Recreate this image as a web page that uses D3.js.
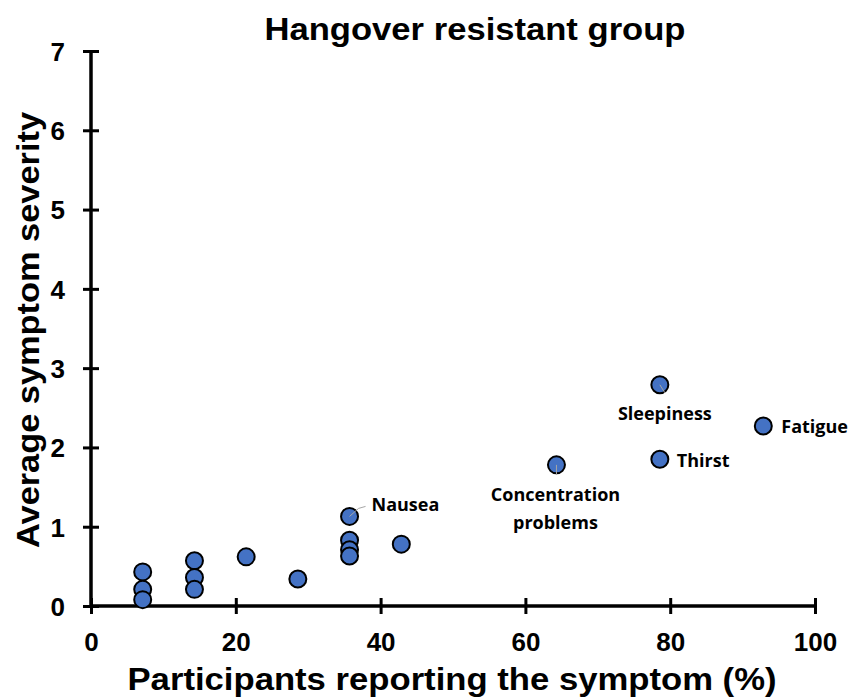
<!DOCTYPE html>
<html>
<head>
<meta charset="utf-8">
<script src="https://cdn.jsdelivr.net/npm/d3@7"></script>
<style>
  html, body { margin: 0; padding: 0; background: #fff; }
  svg { display: block; }
</style>
</head>
<body>
<svg id="chart" width="851" height="699"></svg>
<script>
// Share of participants reporting each symptom (%) and its mean severity
const pctReporting = [7.14, 7.14, 7.14, 14.29, 14.29, 14.29, 21.43, 28.57,
                      35.71, 35.71, 35.71, 35.71, 42.86, 64.29, 78.57, 78.57, 92.86];
const avgSeverity  = [0.43, 0.21, 0.08, 0.57, 0.36, 0.21, 0.62, 0.34,
                      1.13, 0.83, 0.71, 0.63, 0.78, 1.78, 2.79, 1.85, 2.27];
const symptomNames = ["", "", "", "", "", "", "", "",
                      "Nausea", "", "", "", "", "Concentration problems", "Sleepiness", "Thirst", "Fatigue"];

const xTicks = [0, 20, 40, 60, 80, 100];
const yTicks = [0, 1, 2, 3, 4, 5, 6, 7];

const chartTitle = "Hangover resistant group";
const xTitle = "Participants reporting the symptom (%)";
const yTitle = "Average symptom severity";

const svg = d3.select("#chart");
const x = d3.scaleLinear().domain([0, 100]).range([91, 815]);
const y = d3.scaleLinear().domain([0, 7]).range([606, 51]);

const boldFont = "'Liberation Sans', Arial, sans-serif";
const labelFont = "'Open Sans', 'Noto Sans', sans-serif";

// Axes with ticks crossing the line on both sides
const xAxis = svg.append("g")
  .attr("transform", `translate(0,${y(0)})`)
  .call(d3.axisBottom(x).tickValues(xTicks).tickSize(8).tickSizeOuter(0).tickFormat(d3.format("d")));
const yAxis = svg.append("g")
  .attr("transform", `translate(${x(0)},0)`)
  .call(d3.axisLeft(y).tickValues(yTicks).tickSize(8).tickSizeOuter(0).tickFormat(d3.format("d")));

[xAxis, yAxis].forEach(g => {
  g.attr("font-family", boldFont).attr("font-size", 26).attr("font-weight", "bold");
  g.select(".domain").attr("stroke", "#000").attr("stroke-width", 3.5);
  g.selectAll(".tick line").attr("stroke", "#000").attr("stroke-width", 3);
  g.selectAll(".tick text")
    .attr("fill", "#000")
    .style("font-family", boldFont)
    .style("font-weight", "700")
    .style("font-size", "26px");
});
xAxis.selectAll(".tick line").attr("y1", -8).attr("y2", 8);
xAxis.selectAll(".tick text").attr("y", 45).attr("dy", 0);
yAxis.selectAll(".tick line").attr("x1", -8).attr("x2", 8);
yAxis.selectAll(".tick text").attr("x", -26).attr("dy", "0.36em");
xAxis.select(".domain").attr("d", `M${x(0) - 1},0H${x(100) + 1}`);
yAxis.select(".domain").attr("d", `M0,${y(0) + 1}V${y(7) - 1}`);

// Titles
svg.append("text")
  .attr("x", 475).attr("y", 40)
  .attr("text-anchor", "middle")
  .style("font-family", boldFont).style("font-weight", "bold").style("font-size", "32px")
  .attr("textLength", 421).attr("lengthAdjust", "spacingAndGlyphs")
  .text(chartTitle);

svg.append("text")
  .attr("x", 452).attr("y", 690)
  .attr("text-anchor", "middle")
  .style("font-family", boldFont).style("font-weight", "bold").style("font-size", "31px")
  .attr("textLength", 649).attr("lengthAdjust", "spacingAndGlyphs")
  .text(xTitle);

svg.append("text")
  .attr("transform", "translate(39,330) rotate(-90)")
  .attr("text-anchor", "middle")
  .style("font-family", boldFont).style("font-weight", "bold").style("font-size", "31px")
  .attr("textLength", 436).attr("lengthAdjust", "spacingAndGlyphs")
  .text(yTitle);

const pts = pctReporting.map((p, i) => ({ p, s: avgSeverity[i], name: symptomNames[i] }));

// Leader lines for the labels that sit away from their point
const leaders = {
  "Nausea": [[0, 0], [9, -8], [16, -10]],
  "Sleepiness": [[0, 0], [5, 8]],
  "Concentration problems": [[0, 0], [0, 10]]
};

// Points
svg.append("g").selectAll("circle")
  .data(pts)
  .join("circle")
  .attr("cx", d => x(d.p))
  .attr("cy", d => y(d.s))
  .attr("r", 8.5)
  .attr("fill", "#4472C4")
  .attr("stroke", "#000")
  .attr("stroke-width", 2);

// Leader lines drawn over the point fill
svg.append("g").selectAll("path")
  .data(pts.filter(d => leaders[d.name]))
  .join("path")
  .attr("fill", "none").attr("stroke", "#a6a6a6").attr("stroke-width", 1)
  .attr("d", d => d3.line()(leaders[d.name].map(([dx, dy]) => [x(d.p) + dx, y(d.s) + dy])));

// Data labels
const labelPos = {
  "Nausea": { dx: 22, dy: -5, anchor: "start" },
  "Sleepiness": { dx: 5, dy: 35, anchor: "middle" },
  "Thirst": { dx: 17, dy: 8, anchor: "start" },
  "Fatigue": { dx: 18, dy: 7, anchor: "start" },
  "Concentration problems": { dx: -1, dy: 36, anchor: "middle", lines: ["Concentration", "problems"] }
};
const labels = svg.append("g").selectAll("text")
  .data(pts.filter(d => labelPos[d.name]))
  .join("text")
  .attr("x", d => x(d.p) + labelPos[d.name].dx)
  .attr("y", d => y(d.s) + labelPos[d.name].dy)
  .attr("text-anchor", d => labelPos[d.name].anchor)
  .style("font-family", labelFont).style("font-weight", "700").style("font-size", "18px")
  .attr("fill", "#000");
labels.each(function(d) {
  const lp = labelPos[d.name];
  const t = d3.select(this);
  if (lp.lines) {
    lp.lines.forEach((ln, k) => {
      t.append("tspan").attr("x", x(d.p) + lp.dx).attr("dy", k === 0 ? 0 : 28).text(ln);
    });
  } else {
    t.text(d.name);
  }
});
</script>
</body>
</html>
